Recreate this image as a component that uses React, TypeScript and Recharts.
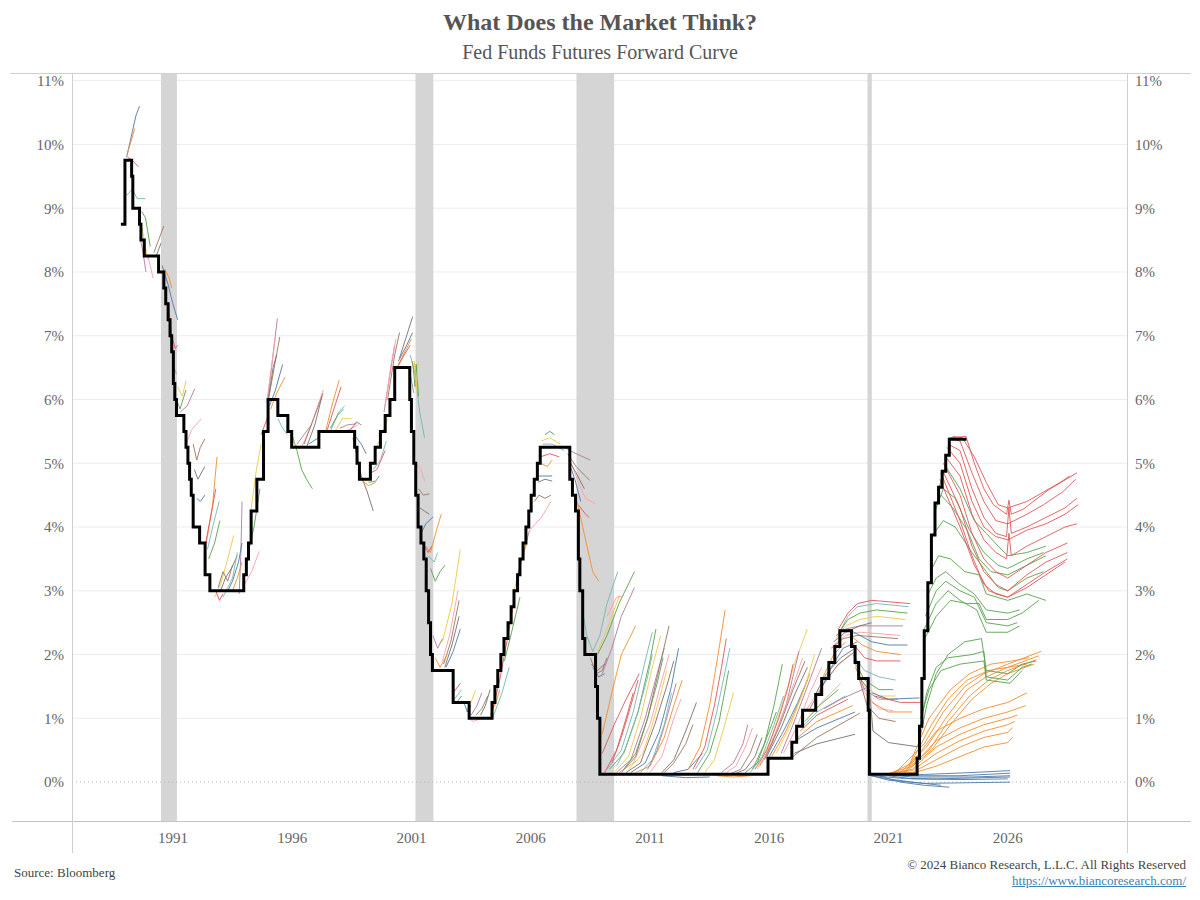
import {
  CartesianGrid,
  Line,
  LineChart,
  ReferenceArea,
  ReferenceLine,
  XAxis,
  YAxis,
} from "recharts";

type Pt = [number, number];

const X_TICKS = [1991, 1996, 2001, 2006, 2011, 2016, 2021, 2026];
const Y_TICKS = [0, 1, 2, 3, 4, 5, 6, 7, 8, 9, 10, 11];
const GRID_VALUES = [1, 2, 3, 4, 5, 6, 7, 8, 9, 10, 11];

const recessions: Pt[] = [
  [1990.5, 1991.17],
  [2001.17, 2001.92],
  [2007.92, 2009.5],
  [2020.12, 2020.3],
];

// fed funds target (mid of range), change points
const fedFunds: Pt[] = [
  [1988.82, 8.75], [1988.99, 9.75], [1989.27, 9.5], [1989.32, 9.0], [1989.6, 8.75],
  [1989.66, 8.5], [1989.8, 8.25], [1990.4, 8.0], [1990.62, 7.75], [1990.7, 7.5],
  [1990.8, 7.25], [1990.88, 7.0], [1990.95, 6.75], [1991.02, 6.25], [1991.08, 6.0],
  [1991.15, 5.75], [1991.46, 5.5], [1991.55, 5.25], [1991.63, 5.0], [1991.7, 4.75],
  [1991.77, 4.5], [1991.85, 4.0], [1992.12, 3.75], [1992.35, 3.25], [1992.55, 3.0],
  [1993.97, 3.25], [1994.08, 3.5], [1994.17, 3.75], [1994.28, 4.25], [1994.52, 4.75],
  [1994.8, 5.5], [1994.99, 6.0], [1995.4, 5.75], [1995.82, 5.5], [1995.98, 5.25],
  [1997.12, 5.5], [1998.62, 5.25], [1998.72, 5.0], [1998.82, 4.75], [1999.28, 5.0],
  [1999.48, 5.25], [1999.7, 5.5], [1999.9, 5.75], [2000.1, 6.0], [2000.3, 6.5],
  [2000.93, 6.0], [2001.0, 5.5], [2001.1, 5.0], [2001.18, 4.5], [2001.28, 4.0],
  [2001.4, 3.75], [2001.52, 3.5], [2001.62, 3.0], [2001.72, 2.5], [2001.8, 2.0],
  [2001.88, 1.75], [2002.75, 1.25], [2003.42, 1.0], [2004.38, 1.25], [2004.5, 1.5],
  [2004.62, 1.75], [2004.75, 2.0], [2004.88, 2.25], [2005.05, 2.5], [2005.18, 2.75],
  [2005.3, 3.0], [2005.45, 3.25], [2005.55, 3.5], [2005.68, 3.75], [2005.8, 4.0],
  [2005.92, 4.25], [2006.02, 4.5], [2006.15, 4.75], [2006.28, 5.0], [2006.4, 5.25],
  [2007.64, 4.75], [2007.75, 4.5], [2007.88, 4.25], [2008.0, 3.5], [2008.06, 3.0],
  [2008.18, 2.25], [2008.27, 2.0], [2008.72, 1.5], [2008.8, 1.0], [2008.9, 0.125],
  [2015.95, 0.375], [2016.95, 0.625], [2017.15, 0.875], [2017.4, 1.125], [2017.95, 1.375],
  [2018.2, 1.625], [2018.5, 1.875], [2018.75, 2.125], [2018.96, 2.375], [2019.45, 2.125],
  [2019.6, 1.875], [2019.75, 1.625], [2020.15, 1.125], [2020.2, 0.125], [2022.2, 0.375],
  [2022.3, 0.875], [2022.4, 1.625], [2022.5, 2.375], [2022.65, 3.125], [2022.8, 3.875],
  [2022.95, 4.375], [2023.1, 4.625], [2023.25, 4.875], [2023.4, 5.125], [2023.55, 5.375],
  [2024.27, 5.375],
];

// forward curves, grouped by era
const curves1989: Pt[][] = [
  [[1989.06, 9.8], [1989.3, 10.2], [1989.45, 10.45], [1989.6, 10.6]],
  [[1989.08, 9.85], [1989.25, 10.05], [1989.4, 10.25]],
  [[1989.1, 9.8], [1989.3, 9.75], [1989.55, 9.65]],
  [[1989.06, 9.2], [1989.3, 9.3], [1989.5, 9.15], [1989.85, 9.15]],
  [[1989.69, 8.95], [1989.85, 8.85], [1990.05, 8.4]],
  [[1989.7, 8.7], [1989.85, 8.4], [1989.95, 8.2]],
  [[1989.62, 8.55], [1989.75, 8.3], [1989.87, 8.0]],
  [[1989.95, 8.25], [1990.05, 8.1], [1990.17, 7.9]],
  [[1990.2, 8.3], [1990.45, 8.55], [1990.62, 8.72]],
  [[1990.3, 8.25], [1990.5, 8.45]],
  [[1990.55, 8.1], [1990.8, 7.8], [1991.0, 7.5], [1991.2, 7.25]],
  [[1990.65, 8.05], [1990.85, 7.9], [1990.95, 7.75]],
  [[1990.8, 7.5], [1990.95, 7.0], [1991.1, 6.8], [1991.2, 6.85]],
  [[1990.95, 6.9], [1991.05, 6.5], [1991.15, 6.4]],
  [[1991.15, 6.0], [1991.3, 5.85], [1991.55, 6.15]],
  [[1991.2, 6.2], [1991.4, 6.05], [1991.55, 6.3]],
  [[1991.3, 5.8], [1991.6, 5.9], [1991.92, 6.17]],
  [[1991.55, 5.3], [1991.78, 5.52], [1991.95, 5.6], [1992.2, 5.7]],
];

const curves1992: Pt[][] = [
  [[1991.85, 5.3], [1992.0, 5.05], [1992.15, 5.25], [1992.34, 5.38]],
  [[1991.9, 4.9], [1992.05, 4.75], [1992.34, 4.95]],
  [[1992.0, 4.45], [1992.15, 4.4], [1992.34, 4.5]],
  [[1992.4, 3.75], [1992.65, 4.3], [1992.85, 5.1]],
  [[1992.35, 3.7], [1992.6, 4.2], [1992.8, 4.6]],
  [[1992.45, 3.65], [1992.7, 4.05], [1992.94, 4.4]],
  [[1992.5, 3.5], [1992.75, 3.75], [1992.97, 4.1]],
  [[1992.75, 2.9], [1993.0, 3.1], [1993.3, 3.5], [1993.55, 3.87]],
  [[1993.78, 2.95], [1993.85, 3.6], [1993.9, 4.4]],
  [[1994.0, 3.1], [1994.3, 3.3], [1994.62, 3.62]],
  [[1992.9, 3.05], [1993.1, 3.3], [1993.3, 3.15], [1993.5, 3.4]],
  [[1993.0, 3.0], [1993.2, 3.2], [1993.45, 3.35], [1993.7, 3.55]],
  [[1993.3, 3.0], [1993.5, 3.15], [1993.75, 3.45], [1993.9, 3.75]],
  [[1993.5, 3.0], [1993.7, 3.2], [1993.9, 3.45]],
  [[1992.8, 3.0], [1992.95, 2.85], [1993.1, 2.95]],
  [[1993.1, 2.9], [1993.3, 3.05], [1993.5, 3.2], [1993.7, 3.6]],
  [[1994.1, 3.5], [1994.4, 4.0], [1994.65, 4.6]],
  [[1994.25, 4.2], [1994.5, 4.9], [1994.7, 5.3]],
];

const curves1995: Pt[][] = [
  [[1994.95, 5.95], [1995.15, 6.55], [1995.38, 7.27]],
  [[1994.95, 6.0], [1995.1, 6.4], [1995.3, 7.0]],
  [[1994.98, 5.95], [1995.2, 6.4], [1995.48, 6.98]],
  [[1995.0, 6.0], [1995.2, 6.5], [1995.35, 6.7]],
  [[1995.05, 5.9], [1995.3, 6.15], [1995.6, 6.55]],
  [[1995.1, 5.85], [1995.35, 6.1], [1995.7, 6.35]],
  [[1994.7, 5.45], [1994.85, 5.6], [1995.0, 5.75]],
  [[1995.4, 5.7], [1995.6, 5.55], [1995.8, 5.45]],
  [[1995.95, 5.5], [1996.2, 5.2], [1996.4, 4.9], [1996.6, 4.75], [1996.85, 4.6]],
  [[1995.9, 5.45], [1996.1, 5.3], [1996.3, 5.25]],
  [[1996.2, 5.3], [1996.5, 5.45], [1996.8, 5.6]],
  [[1996.4, 5.25], [1996.8, 5.6], [1997.3, 6.15]],
  [[1996.5, 5.3], [1996.9, 5.7], [1997.3, 6.1]],
  [[1996.6, 5.25], [1996.95, 5.6], [1997.25, 6.05]],
  [[1996.7, 5.3], [1997.1, 5.4]],
  [[1997.4, 5.5], [1997.7, 5.95], [1997.97, 6.3]],
  [[1997.45, 5.5], [1997.75, 5.85], [1998.05, 6.2]],
  [[1997.6, 5.5], [1997.95, 5.8], [1998.2, 5.9]],
  [[1997.6, 5.55], [1997.9, 5.75], [1998.15, 5.85]],
  [[1997.8, 5.5], [1998.1, 5.7], [1998.5, 5.7]],
  [[1998.0, 5.55], [1998.3, 5.6], [1998.7, 5.62]],
  [[1998.2, 5.5], [1998.5, 5.55], [1998.75, 5.6]],
  [[1998.4, 5.5], [1998.7, 5.65], [1998.9, 5.6]],
  [[1998.55, 5.4], [1998.9, 4.8], [1999.15, 4.55], [1999.4, 4.25]],
  [[1998.6, 5.45], [1998.9, 5.3], [1999.1, 5.15]],
  [[1998.85, 4.75], [1999.2, 4.65], [1999.5, 4.7]],
  [[1999.3, 4.85], [1999.55, 4.9], [1999.9, 5.2]],
  [[1999.4, 4.9], [1999.7, 5.05], [1999.95, 5.35]],
  [[1999.2, 4.7], [1999.5, 4.72], [1999.65, 4.8]],
  [[1999.5, 5.2], [1999.8, 5.5], [2000.0, 5.7]],
  [[1999.85, 5.8], [2000.1, 6.4], [2000.3, 6.85]],
  [[1999.9, 5.9], [2000.15, 6.55], [2000.35, 6.95]],
  [[2000.0, 6.0], [2000.3, 6.7], [2000.5, 7.05]],
  [[2000.5, 6.65], [2000.8, 7.0], [2001.05, 7.3]],
  [[2000.45, 6.6], [2000.8, 6.85], [2001.05, 7.05]],
  [[2000.45, 6.55], [2000.8, 6.8], [2001.0, 6.95]],
  [[2000.4, 6.5], [2000.7, 6.7], [2000.95, 6.85]],
  [[2000.95, 6.7], [2001.15, 6.4], [2001.35, 5.8], [2001.55, 5.4]],
  [[2001.05, 6.6], [2001.15, 6.2], [2001.2, 6.55], [2001.3, 6.05]],
  [[2001.12, 6.6], [2001.2, 6.15], [2001.28, 6.6]],
  [[2000.9, 6.5], [2001.0, 6.3], [2001.1, 6.1]],
];

const curves2001: Pt[][] = [
  [[2001.2, 5.0], [2001.4, 4.9], [2001.56, 4.72]],
  [[2001.3, 4.6], [2001.5, 4.5], [2001.75, 4.52]],
  [[2001.35, 4.3], [2001.55, 4.25], [2001.75, 4.2]],
  [[2001.4, 3.9], [2001.6, 4.05], [2001.91, 4.16]],
  [[2001.6, 3.7], [2001.8, 3.6], [2002.05, 3.95], [2002.25, 4.2]],
  [[2001.55, 3.7], [2001.7, 3.6], [2001.85, 3.7]],
  [[2001.7, 3.55], [2001.95, 3.45], [2002.1, 3.6]],
  [[2001.8, 3.35], [2002.0, 3.15], [2002.2, 3.3], [2002.4, 3.4]],
  [[2002.3, 2.2], [2002.7, 2.8], [2003.05, 3.65]],
  [[2001.9, 2.3], [2002.1, 2.1], [2002.3, 2.25]],
  [[2002.3, 1.9], [2002.6, 2.3], [2002.95, 3.0]],
  [[2002.35, 1.85], [2002.65, 2.2], [2003.0, 2.85]],
  [[2002.4, 1.8], [2002.7, 2.15], [2003.0, 2.6]],
  [[2002.45, 1.8], [2002.75, 2.05], [2003.05, 2.4]],
  [[2002.0, 1.95], [2002.2, 1.8], [2002.5, 2.0]],
  [[2002.75, 1.4], [2002.95, 1.5], [2003.05, 1.55]],
  [[2002.8, 1.3], [2003.1, 1.45]],
  [[2002.7, 1.3], [2002.9, 1.25], [2003.1, 1.35]],
  [[2003.3, 1.1], [2003.55, 1.3], [2003.7, 1.45]],
  [[2003.5, 1.05], [2003.75, 1.2], [2003.95, 1.4]],
  [[2003.4, 1.0], [2003.6, 0.95], [2003.9, 1.0]],
  [[2003.7, 1.05], [2003.95, 1.15], [2004.2, 1.35]],
  [[2003.9, 1.05], [2004.1, 1.2], [2004.3, 1.45]],
  [[2003.2, 1.25], [2003.35, 1.1], [2003.5, 1.2]],
  [[2004.3, 1.05], [2004.55, 1.25], [2004.7, 1.45]],
  [[2004.35, 1.05], [2004.7, 1.6], [2005.05, 2.3], [2005.3, 2.85]],
  [[2004.4, 1.0], [2004.8, 1.4], [2005.1, 1.8]],
  [[2004.9, 1.9], [2005.2, 2.35], [2005.55, 2.9]],
  [[2005.3, 3.0], [2005.6, 3.45], [2005.85, 3.75]],
  [[2005.45, 3.25], [2005.7, 3.6], [2005.95, 3.95]],
  [[2005.95, 3.95], [2006.2, 4.05], [2006.45, 4.15], [2006.85, 4.4]],
  [[2006.15, 4.4], [2006.35, 4.5], [2006.6, 4.45], [2006.85, 4.5]],
  [[2006.3, 4.7], [2006.6, 4.75], [2006.9, 4.72]],
  [[2006.35, 4.8], [2006.9, 4.8]],
  [[2006.4, 5.0], [2006.7, 4.95], [2006.9, 5.05]],
  [[2006.4, 5.1], [2006.8, 5.15], [2007.2, 5.1]],
  [[2006.5, 5.3], [2006.9, 5.3], [2007.4, 5.2]],
  [[2006.6, 5.45], [2006.8, 5.5], [2007.0, 5.45]],
  [[2006.45, 5.35], [2006.8, 5.4], [2007.25, 5.3]],
  [[2007.4, 5.25], [2007.9, 5.15], [2008.5, 5.05]],
  [[2007.6, 5.1], [2008.0, 4.7], [2008.3, 4.45], [2008.7, 4.37]],
  [[2007.55, 5.15], [2007.9, 4.95], [2008.48, 4.73]],
  [[2007.6, 5.05], [2007.9, 4.85], [2008.25, 4.6]],
  [[2007.62, 5.0], [2007.85, 4.75], [2008.1, 4.4]],
  [[2007.95, 4.4], [2008.3, 3.8], [2008.6, 3.3], [2008.85, 3.15]],
  [[2008.0, 4.35], [2008.3, 4.2], [2008.45, 4.15]],
];

const curves2008: Pt[][] = [
  [[2008.15, 2.75], [2008.35, 2.3], [2008.6, 2.05], [2008.9, 2.3], [2009.2, 2.8], [2009.65, 3.3]],
  [[2008.8, 2.0], [2009.2, 2.3], [2009.7, 2.8], [2010.35, 3.3]],
  [[2008.75, 2.0], [2009.1, 2.3], [2009.73, 2.93]],
  [[2009.0, 1.7], [2009.4, 2.1], [2009.8, 2.6], [2010.35, 3.05]],
  [[2009.2, 2.6], [2009.6, 2.9], [2009.9, 2.92]],
  [[2008.5, 1.95], [2008.75, 1.7], [2009.0, 1.75], [2009.2, 1.95]],
  [[2008.55, 1.85], [2008.8, 1.75], [2009.1, 1.85]],
  [[2008.6, 1.8], [2008.85, 1.65], [2009.1, 1.7]],
  [[2009.0, 0.75], [2009.4, 1.4], [2009.8, 2.0], [2010.4, 2.45]],
  [[2009.0, 0.45], [2009.5, 0.9], [2010.0, 1.3], [2010.55, 1.7]],
  [[2009.2, 0.2], [2009.8, 0.5], [2010.3, 1.1], [2010.8, 1.9], [2011.1, 2.35]],
  [[2009.3, 0.2], [2009.9, 0.45], [2010.5, 1.1], [2011.0, 1.9], [2011.25, 2.4]],
  [[2009.5, 0.15], [2010.1, 0.4], [2010.6, 1.0], [2011.1, 1.8], [2011.45, 2.3]],
  [[2009.6, 0.15], [2010.2, 0.35], [2010.8, 1.0], [2011.3, 1.7], [2011.6, 2.1]],
  [[2009.7, 0.15], [2010.3, 0.3], [2011.0, 0.9], [2011.5, 1.6], [2011.8, 2.0]],
  [[2009.8, 0.15], [2010.4, 0.4], [2010.9, 1.0], [2011.4, 1.8], [2011.8, 2.45]],
  [[2010.0, 0.15], [2010.6, 0.3], [2011.2, 0.9], [2011.7, 1.5], [2012.0, 1.9]],
  [[2010.2, 0.15], [2010.8, 0.3], [2011.4, 0.8], [2011.9, 1.5], [2012.2, 2.1]],
  [[2010.4, 0.15], [2011.0, 0.25], [2011.6, 0.7], [2012.0, 1.2], [2012.35, 1.6]],
  [[2009.4, 0.3], [2009.8, 0.7], [2010.2, 1.2], [2010.5, 1.6]],
  [[2009.6, 0.25], [2010.0, 0.55], [2010.5, 1.1], [2010.9, 1.65], [2011.1, 2.0]],
  [[2009.9, 0.2], [2010.4, 0.45], [2010.9, 1.0], [2011.3, 1.55], [2011.55, 1.95]],
  [[2010.1, 0.2], [2010.7, 0.45], [2011.1, 0.9], [2011.5, 1.45], [2011.7, 1.75]],
  [[2010.9, 0.2], [2011.3, 0.5], [2011.7, 1.0], [2012.1, 1.55]],
  [[2011.0, 0.15], [2011.5, 0.4], [2012.0, 1.0], [2012.3, 1.3]],
  [[2011.6, 0.15], [2012.0, 0.3], [2012.5, 0.6], [2012.8, 0.9]],
  [[2011.5, 0.15], [2012.0, 0.35], [2012.5, 0.8], [2012.95, 1.25]],
  [[2012.0, 0.15], [2012.6, 0.2], [2013.2, 0.45]],
  [[2012.6, 0.2], [2013.1, 0.55], [2013.5, 1.2], [2013.9, 2.1], [2014.15, 2.7]],
  [[2012.8, 0.2], [2013.3, 0.55], [2013.7, 1.2], [2014.0, 1.8], [2014.2, 2.25]],
  [[2012.9, 0.2], [2013.4, 0.5], [2013.8, 1.1], [2014.35, 2.1]],
  [[2013.0, 0.15], [2013.5, 0.45], [2013.9, 0.95], [2014.3, 1.75]],
  [[2013.3, 0.15], [2013.7, 0.35], [2014.1, 0.85], [2014.5, 1.4]],
  [[2014.0, 0.15], [2014.5, 0.3], [2014.9, 0.6], [2015.1, 0.9]],
  [[2014.2, 0.15], [2014.6, 0.25], [2015.0, 0.55], [2015.3, 0.85]],
  [[2014.3, 0.12], [2014.8, 0.2], [2015.2, 0.45], [2015.5, 0.75]],
  [[2014.5, 0.12], [2015.0, 0.2], [2015.4, 0.4], [2015.7, 0.7]],
  [[2011.5, 0.1], [2012.5, 0.07], [2013.5, 0.08]],
  [[2013.8, 0.1], [2014.5, 0.08], [2015.2, 0.1]],
  [[2009.1, 0.15], [2009.6, 0.5], [2010.0, 1.0], [2010.3, 1.4]],
  [[2010.6, 0.15], [2011.1, 0.35], [2011.6, 0.9], [2011.9, 1.4]],
];

const curves2015: Pt[][] = [
  [[2015.3, 0.2], [2015.8, 0.6], [2016.2, 1.2], [2016.55, 1.85]],
  [[2015.5, 0.2], [2016.1, 0.7], [2016.7, 1.4], [2017.1, 1.9], [2017.6, 2.4]],
  [[2015.6, 0.25], [2016.1, 0.6], [2016.7, 1.2], [2017.25, 2.05]],
  [[2015.7, 0.3], [2016.3, 0.8], [2016.9, 1.4], [2017.4, 1.95]],
  [[2015.8, 0.35], [2016.4, 0.85], [2017.0, 1.45], [2017.5, 1.9]],
  [[2015.9, 0.4], [2016.5, 0.85], [2017.1, 1.4], [2017.6, 1.8]],
  [[2016.0, 0.4], [2016.6, 0.8], [2017.2, 1.25], [2017.6, 1.6]],
  [[2016.1, 0.4], [2016.7, 0.8], [2017.3, 1.3], [2017.7, 1.7]],
  [[2015.4, 0.2], [2015.9, 0.5], [2016.4, 1.0], [2016.8, 1.5], [2017.0, 1.85]],
  [[2015.2, 0.15], [2015.7, 0.4], [2016.2, 0.9], [2016.6, 1.35]],
  [[2015.0, 0.15], [2015.5, 0.3], [2015.9, 0.7], [2016.3, 1.1]],
  [[2016.3, 0.45], [2016.9, 0.9], [2017.5, 1.5], [2017.9, 2.0]],
  [[2016.5, 0.45], [2017.0, 0.9], [2017.5, 1.4], [2018.0, 1.9], [2018.2, 2.1]],
  [[2016.6, 0.45], [2017.2, 0.9], [2017.7, 1.4], [2018.2, 1.8]],
  [[2017.0, 0.4], [2018.0, 0.7], [2019.8, 1.08]],
  [[2017.05, 0.45], [2018.0, 0.6], [2019.6, 0.75]],
  [[2017.1, 0.65], [2018.0, 0.85], [2019.6, 1.1]],
  [[2017.2, 0.7], [2018.0, 0.95], [2019.5, 1.2]],
  [[2017.3, 0.8], [2018.0, 1.05], [2019.3, 1.3]],
  [[2017.35, 0.85], [2018.0, 1.1], [2019.2, 1.35]],
  [[2017.5, 0.95], [2018.1, 1.2], [2018.9, 1.45]],
  [[2017.6, 1.0], [2018.2, 1.25], [2019.0, 1.55]],
  [[2018.3, 1.15], [2019.0, 1.3], [2020.2, 1.5]],
  [[2017.5, 1.1], [2018.2, 1.5], [2018.8, 1.8], [2019.4, 2.0]],
  [[2017.7, 1.15], [2018.3, 1.55], [2018.9, 1.85], [2019.6, 2.05]],
  [[2017.9, 1.35], [2018.4, 1.7], [2019.0, 1.95], [2019.6, 2.1]],
  [[2018.1, 1.4], [2018.6, 1.8], [2019.1, 2.1], [2019.7, 2.2]],
  [[2018.2, 1.6], [2018.7, 2.0], [2019.2, 2.2]],
];

const curves2019: Pt[][] = [
  [[2018.9, 2.4], [2019.3, 2.65], [2019.7, 2.8], [2020.3, 2.85], [2021.9, 2.8]],
  [[2018.95, 2.35], [2019.3, 2.6], [2019.7, 2.75], [2020.5, 2.8], [2021.85, 2.75]],
  [[2018.85, 2.3], [2019.3, 2.55], [2019.8, 2.65], [2020.5, 2.7], [2021.8, 2.65]],
  [[2018.8, 2.25], [2019.2, 2.45], [2019.8, 2.55], [2020.5, 2.6], [2021.7, 2.55]],
  [[2018.8, 2.3], [2019.2, 2.4], [2019.8, 2.45], [2021.6, 2.45]],
  [[2018.7, 2.15], [2019.2, 2.3], [2019.8, 2.35], [2021.5, 2.3]],
  [[2018.6, 2.1], [2019.1, 2.25], [2019.7, 2.3], [2021.4, 2.25]],
  [[2018.7, 2.2], [2019.2, 2.35], [2019.8, 2.45], [2020.3, 2.5]],
  [[2019.3, 2.4], [2019.8, 2.3], [2020.3, 2.2], [2021.0, 2.15], [2021.8, 2.15]],
  [[2019.4, 2.3], [2019.9, 2.15], [2020.5, 2.05], [2021.5, 2.0]],
  [[2019.45, 2.2], [2020.0, 1.95], [2020.5, 1.9], [2021.5, 1.9]],
  [[2019.5, 2.0], [2020.0, 1.75], [2020.6, 1.65], [2021.3, 1.6]],
  [[2019.55, 1.9], [2020.0, 1.6], [2020.6, 1.45], [2021.2, 1.45]],
  [[2019.6, 1.85], [2020.0, 1.5], [2020.6, 1.35], [2021.3, 1.35]],
  [[2019.62, 1.8], [2020.0, 1.45], [2020.6, 1.3], [2021.4, 1.3]],
  [[2019.7, 1.7], [2020.0, 1.4], [2020.6, 1.15], [2021.2, 1.12]],
  [[2019.75, 1.65], [2020.1, 1.2], [2020.6, 1.0], [2021.3, 0.95]],
  [[2019.8, 1.62], [2020.2, 1.45], [2020.35, 0.8], [2021.0, 0.62], [2022.3, 0.55]],
  [[2020.3, 1.4], [2021.0, 1.3], [2022.3, 1.32]],
  [[2020.3, 1.25], [2021.0, 1.1], [2022.0, 1.1]],
  [[2020.4, 1.35], [2021.5, 1.25], [2022.4, 1.25]],
];

const curves2020: Pt[][] = [
  [[2020.25, 0.1], [2021.0, 0.05], [2022.0, 0.0], [2023.2, -0.05]],
  [[2020.3, 0.1], [2021.0, 0.03], [2022.5, -0.02], [2026.1, 0.0]],
  [[2020.4, 0.1], [2021.5, 0.06], [2023.0, 0.05], [2026.1, 0.08]],
  [[2020.5, 0.12], [2022.0, 0.1], [2024.0, 0.1], [2026.1, 0.14]],
  [[2020.6, 0.1], [2021.5, 0.0], [2022.5, -0.05], [2023.55, -0.08]],
  [[2020.8, 0.12], [2022.0, 0.08], [2024.5, 0.08], [2026.1, 0.1]],
  [[2021.0, 0.1], [2022.0, 0.05], [2024.0, 0.04], [2026.0, 0.05]],
  [[2021.2, 0.12], [2022.5, 0.12], [2024.5, 0.15], [2026.1, 0.18]],
];

const curves2021: Pt[][] = [
  [[2021.3, 0.15], [2022.5, 0.6], [2023.3, 1.1], [2024.2, 1.5], [2025.0, 1.7], [2026.0, 1.85], [2027.4, 2.05]],
  [[2021.5, 0.15], [2022.6, 0.55], [2023.4, 1.0], [2024.3, 1.45], [2025.1, 1.65], [2026.0, 1.8], [2027.3, 1.98]],
  [[2021.6, 0.15], [2022.7, 0.5], [2023.5, 0.95], [2024.4, 1.35], [2025.2, 1.6], [2026.0, 1.75], [2027.2, 1.92]],
  [[2021.7, 0.15], [2022.8, 0.5], [2023.6, 0.9], [2024.5, 1.3], [2025.3, 1.55], [2026.0, 1.7], [2027.1, 1.85]],
  [[2021.0, 0.12], [2022.0, 0.3], [2023.0, 0.8], [2024.0, 1.0], [2025.0, 1.15], [2026.0, 1.25], [2026.8, 1.4]],
  [[2020.9, 0.12], [2022.0, 0.25], [2023.0, 0.65], [2024.0, 0.85], [2025.0, 1.0], [2026.0, 1.1], [2026.75, 1.2]],
  [[2020.8, 0.12], [2022.0, 0.2], [2023.0, 0.55], [2024.0, 0.75], [2025.0, 0.9], [2026.0, 1.0], [2026.4, 1.05]],
  [[2020.7, 0.12], [2022.0, 0.18], [2023.0, 0.45], [2024.0, 0.65], [2025.0, 0.8], [2026.0, 0.9], [2026.3, 0.95]],
  [[2020.6, 0.12], [2022.0, 0.15], [2023.0, 0.35], [2024.0, 0.55], [2025.0, 0.7], [2026.0, 0.78], [2026.2, 0.85]],
  [[2020.5, 0.12], [2022.0, 0.14], [2023.0, 0.25], [2024.0, 0.4], [2025.0, 0.55], [2026.0, 0.62], [2026.2, 0.7]],
  [[2021.8, 0.2], [2022.8, 0.9], [2023.5, 1.3], [2024.3, 1.6], [2025.2, 1.75], [2026.0, 1.8], [2026.8, 1.85]],
  [[2021.85, 0.25], [2022.7, 1.0], [2023.6, 1.45], [2024.4, 1.7], [2025.3, 1.85], [2026.2, 1.9], [2026.9, 1.95]],
];

const curves2022: Pt[][] = [
  [[2022.25, 0.55], [2022.6, 1.2], [2023.0, 1.7], [2023.5, 2.0], [2024.2, 2.2], [2024.9, 2.25], [2025.1, 1.75], [2026.0, 1.7], [2026.6, 1.85], [2027.2, 1.9]],
  [[2022.3, 0.8], [2022.6, 1.4], [2023.0, 1.8], [2023.5, 1.95], [2024.5, 2.0], [2025.0, 2.05], [2025.1, 1.65], [2026.0, 1.6], [2026.6, 1.8], [2027.0, 1.85]],
  [[2022.35, 1.0], [2022.7, 1.45], [2023.2, 1.75], [2024.0, 1.85], [2025.0, 1.9], [2025.1, 1.6], [2026.1, 1.55], [2026.6, 1.75]],
  [[2023.1, 4.6], [2023.4, 4.95], [2024.0, 4.6], [2024.6, 4.1], [2025.1, 3.9], [2025.6, 3.7], [2026.0, 3.55], [2026.8, 3.6], [2027.6, 3.7]],
  [[2022.95, 4.35], [2023.2, 4.5], [2023.7, 4.3], [2024.3, 3.95], [2024.8, 3.5], [2025.3, 3.3], [2026.0, 3.25], [2026.8, 3.4], [2027.6, 3.55]],
  [[2022.8, 3.85], [2023.3, 4.1], [2023.8, 4.0], [2024.5, 3.6], [2025.1, 3.3], [2025.6, 3.05], [2026.0, 3.0], [2026.8, 3.2], [2027.5, 3.3]],
  [[2022.75, 3.3], [2023.1, 3.55], [2023.6, 3.5], [2024.2, 3.3], [2024.8, 3.25], [2025.1, 2.95], [2026.0, 2.85], [2026.8, 2.95], [2027.6, 2.85]],
  [[2022.6, 2.9], [2023.0, 3.2], [2023.4, 3.3], [2024.0, 3.1], [2024.6, 2.95], [2025.1, 2.7], [2026.0, 2.65], [2026.5, 2.7]],
  [[2022.55, 2.6], [2023.0, 3.0], [2023.4, 3.15], [2024.0, 3.0], [2024.6, 2.9], [2025.1, 2.5], [2026.0, 2.45], [2026.4, 2.5]],
  [[2022.5, 2.4], [2023.0, 2.8], [2023.5, 3.0], [2024.0, 2.85], [2024.7, 2.7], [2025.1, 2.35], [2026.0, 2.35], [2026.5, 2.45]],
  [[2022.45, 2.2], [2023.0, 2.6], [2023.6, 2.85], [2024.3, 2.8], [2024.8, 2.8], [2025.1, 2.55], [2026.0, 2.55], [2026.6, 2.65], [2027.3, 2.85]],
  [[2022.9, 4.2], [2023.3, 4.6], [2023.8, 4.45], [2024.4, 3.95], [2025.0, 3.6], [2025.6, 3.4], [2026.0, 3.35], [2026.8, 3.5], [2027.5, 3.6]],
];

const curves2023: Pt[][] = [
  [[2023.55, 5.4], [2024.25, 5.42], [2024.6, 5.0], [2025.0, 4.6], [2025.4, 4.35], [2025.95, 4.2], [2026.05, 4.42], [2026.15, 4.2], [2026.65, 4.28], [2027.7, 4.58], [2028.9, 4.85]],
  [[2023.6, 5.38], [2024.0, 5.35], [2024.5, 4.85], [2025.0, 4.4], [2025.5, 4.1], [2026.0, 4.05], [2026.8, 4.2], [2027.5, 4.35], [2028.3, 4.55], [2028.85, 4.75]],
  [[2023.5, 5.3], [2024.0, 5.2], [2024.5, 4.6], [2025.0, 4.15], [2025.5, 3.9], [2025.95, 3.85], [2026.05, 4.3], [2026.15, 3.9], [2026.8, 4.0], [2027.6, 4.15], [2028.4, 4.3], [2028.9, 4.45]],
  [[2023.45, 5.25], [2024.0, 5.0], [2024.5, 4.4], [2025.0, 4.0], [2025.5, 3.85], [2026.0, 3.8], [2026.8, 3.95], [2027.6, 4.05], [2028.4, 4.2], [2028.95, 4.35]],
  [[2023.4, 5.1], [2024.0, 4.8], [2024.5, 4.2], [2025.0, 3.8], [2025.5, 3.6], [2025.95, 3.5], [2026.05, 3.9], [2026.15, 3.55], [2026.8, 3.7], [2027.6, 3.85], [2028.4, 4.0], [2028.9, 4.05]],
  [[2023.3, 5.0], [2024.0, 4.5], [2024.5, 3.9], [2025.0, 3.5], [2025.5, 3.3], [2026.0, 3.2], [2026.8, 3.4], [2027.6, 3.6], [2028.5, 3.75]],
  [[2023.25, 4.9], [2024.0, 4.3], [2024.5, 3.7], [2025.0, 3.3], [2025.5, 3.1], [2026.0, 3.0], [2026.8, 3.25], [2027.6, 3.45], [2028.5, 3.6]],
  [[2023.2, 4.85], [2024.0, 4.1], [2024.5, 3.55], [2025.0, 3.1], [2025.5, 2.95], [2026.0, 2.9], [2026.8, 3.1], [2027.6, 3.3], [2028.5, 3.5]],
  [[2023.15, 4.75], [2024.0, 4.0], [2024.6, 3.4], [2025.2, 3.0], [2026.0, 2.9], [2026.8, 3.05], [2027.6, 3.25], [2028.4, 3.45]],
  [[2023.7, 5.42], [2024.1, 5.4], [2024.6, 5.1], [2025.1, 4.7], [2025.6, 4.35], [2026.0, 4.3], [2026.8, 4.4], [2027.5, 4.55], [2028.2, 4.7], [2028.6, 4.8]],
];

const PALETTE = [
  "#4e79a7", "#f28e2b", "#e15759", "#76b7b2", "#59a14f",
  "#edc948", "#b07aa1", "#ff9da7", "#9c755f", "#79706e",
];

const FONT = "'Liberation Serif', 'DejaVu Serif', serif";
const rows = (pts: Pt[]) => pts.map(([t, v]) => ({ t, v }));

const mixedCurves = [
  ...curves1989, ...curves1992, ...curves1995, ...curves2001,
  ...curves2008, ...curves2015, ...curves2019,
];

const coloredGroups: [Pt[][], string][] = [
  [curves2020, "#4e79a7"],
  [curves2021, "#f28e2b"],
  [curves2022, "#59a14f"],
  [curves2023, "#e15759"],
];

const tickStyle = { fill: "#666", fontSize: 15, fontFamily: FONT };

export default function App() {
  return (
    <div style={{ position: "absolute", left: 0, top: 0, width: 1200, height: 900, background: "#fff", fontFamily: FONT }}>
      <LineChart width={1200} height={900} margin={{ top: 73, right: 0, bottom: 0, left: 0 }}>
        <XAxis
          dataKey="t"
          type="number"
          domain={[1986.77, 2031]}
          ticks={X_TICKS}
          allowDataOverflow
          height={79}
          axisLine={false}
          tickLine={false}
          tickSize={0}
          tickMargin={11}
          tick={tickStyle}
        />
        <YAxis
          yAxisId="l"
          domain={[-0.61, 11.12]}
          ticks={Y_TICKS}
          allowDataOverflow
          width={72}
          axisLine={false}
          tickLine={false}
          tickSize={0}
          tickMargin={8}
          tick={tickStyle}
          tickFormatter={(v: number) => `${v}%`}
        />
        <YAxis
          yAxisId="r"
          orientation="right"
          domain={[-0.61, 11.12]}
          ticks={Y_TICKS}
          allowDataOverflow
          width={73}
          axisLine={false}
          tickLine={false}
          tickSize={0}
          tickMargin={8}
          tick={tickStyle}
          tickFormatter={(v: number) => `${v}%`}
        />
        <CartesianGrid yAxisId="l" vertical={false} horizontalValues={GRID_VALUES} stroke="#ececec" />
        {recessions.map(([a, b]) => (
          <ReferenceArea key={a} yAxisId="l" x1={a} x2={b} fill="#d5d5d5" fillOpacity={1} stroke="none" />
        ))}
        <ReferenceLine yAxisId="l" y={0} stroke="#b5b5b5" strokeDasharray="1 3" />
        {mixedCurves.map((pts, i) => (
          <Line
            key={`m${i}`}
            yAxisId="l"
            data={rows(pts)}
            dataKey="v"
            type="linear"
            stroke={PALETTE[i % PALETTE.length]}
            strokeWidth={1}
            strokeOpacity={0.9}
            dot={false}
            activeDot={false}
            isAnimationActive={false}
          />
        ))}
        {coloredGroups.map(([group, color], g) =>
          group.map((pts, i) => (
            <Line
              key={`c${g}-${i}`}
              yAxisId="l"
              data={rows(pts)}
              dataKey="v"
              type="linear"
              stroke={color}
              strokeWidth={1}
              strokeOpacity={0.9}
              dot={false}
              activeDot={false}
              isAnimationActive={false}
            />
          ))
        )}
        <Line
          yAxisId="l"
          data={rows(fedFunds)}
          dataKey="v"
          type="stepAfter"
          stroke="#000"
          strokeWidth={3}
          dot={false}
          activeDot={false}
          isAnimationActive={false}
        />
      </LineChart>

      {/* frame lines */}
      <div style={{ position: "absolute", left: 10, top: 73, width: 1181, height: 1, background: "#cfcfcf" }} />
      <div style={{ position: "absolute", left: 12, top: 821, width: 1179, height: 1, background: "#c4c4c4" }} />
      <div style={{ position: "absolute", left: 72, top: 73, width: 1, height: 780, background: "#cfcfcf" }} />
      <div style={{ position: "absolute", left: 1127, top: 73, width: 1, height: 780, background: "#cfcfcf" }} />

      <div style={{ position: "absolute", left: 0, top: 8, width: 1200, textAlign: "center", fontSize: 24, fontWeight: 700, color: "#555", lineHeight: "28px" }}>
        What Does the Market Think?
      </div>
      <div style={{ position: "absolute", left: 0, top: 40, width: 1200, textAlign: "center", fontSize: 20, color: "#555", lineHeight: "24px" }}>
        Fed Funds Futures Forward Curve
      </div>

      <div style={{ position: "absolute", left: 14, top: 865, fontSize: 13, color: "#444", lineHeight: "16px" }}>
        Source: Bloomberg
      </div>
      <div style={{ position: "absolute", right: 14, top: 857, fontSize: 13, color: "#444", lineHeight: "16px", textAlign: "right" }}>
        © 2024 Bianco Research, L.L.C. All Rights Reserved
      </div>
      <div style={{ position: "absolute", right: 14, top: 873, fontSize: 13, color: "#3b82b6", lineHeight: "16px", textDecoration: "underline", textAlign: "right" }}>
        https://www.biancoresearch.com/
      </div>
    </div>
  );
}
